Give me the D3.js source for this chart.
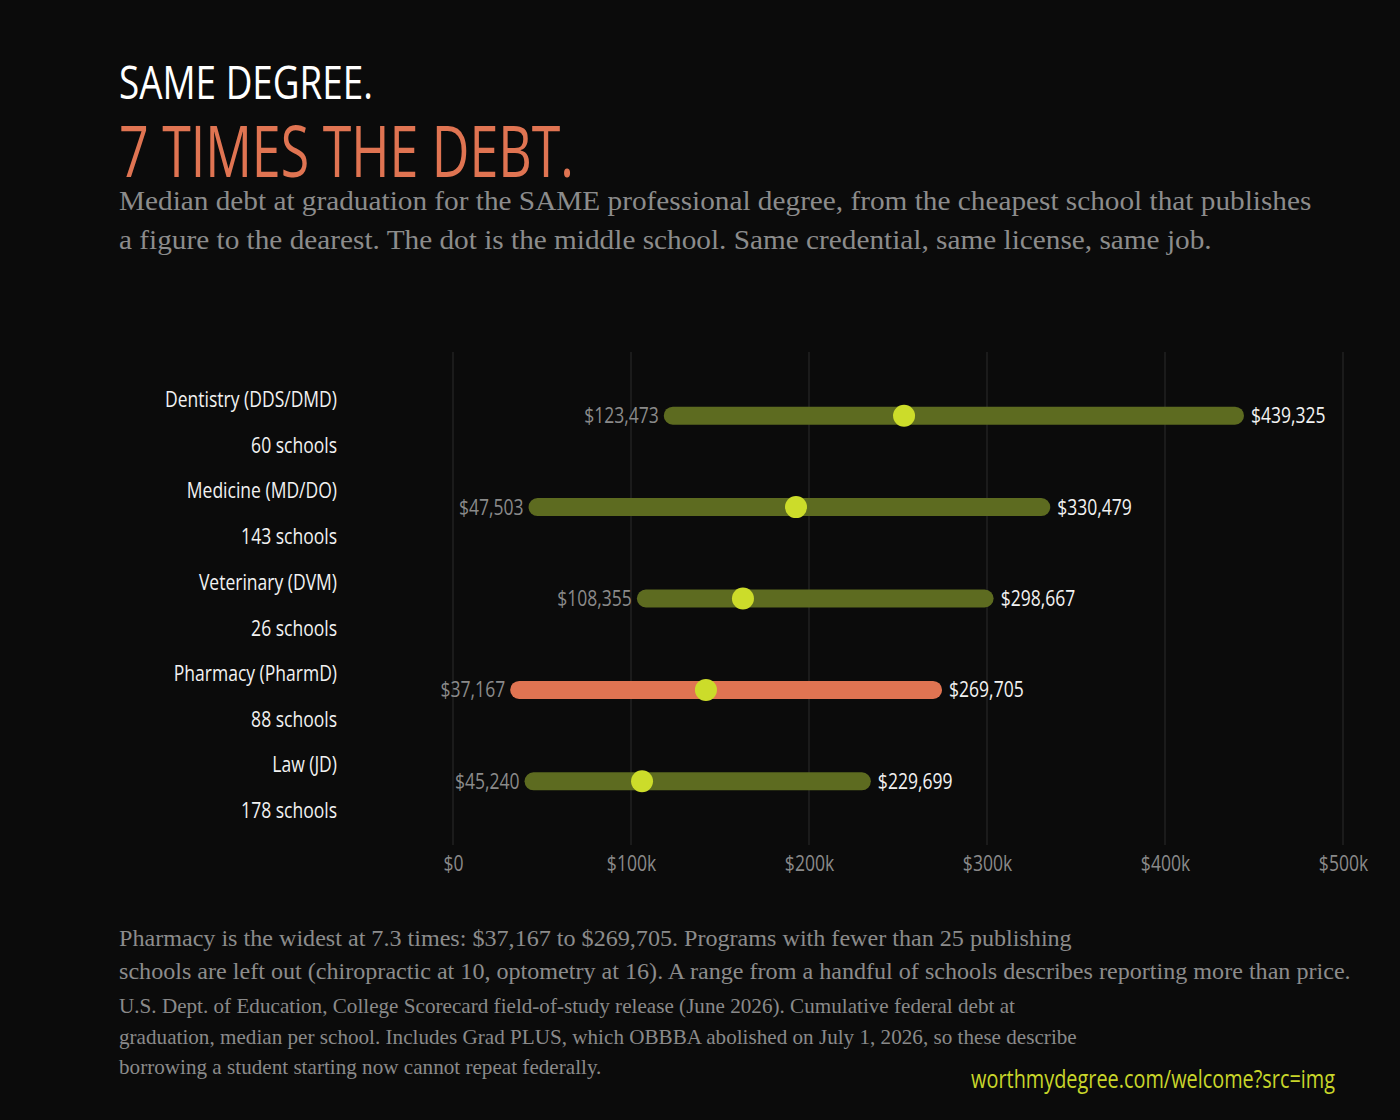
<!DOCTYPE html>
<html>
<head>
<meta charset="utf-8">
<script src="https://cdn.jsdelivr.net/npm/d3@7"></script>
<style>
  html, body { margin: 0; padding: 0; background: #0b0b0b; }
  .cond { font-family: "Open Sans", "DejaVu Sans Condensed", sans-serif; }
  .serif { font-family: "Liberation Serif", "DejaVu Serif", serif; }
</style>
</head>
<body>
<div class="canvas"></div>
<script>
// data
const degrees = ['Dentistry (DDS/DMD)', 'Medicine (MD/DO)', 'Veterinary (DVM)', 'Pharmacy (PharmD)', 'Law (JD)'];
const schoolCounts = [60, 143, 26, 88, 178];
const lowDebt = [123473, 47503, 108355, 37167, 45240];
const highDebt = [439325, 330479, 298667, 269705, 229699];
const middleDebt = [253400, 192700, 162900, 142100, 106200];
const highlighted = ['Pharmacy (PharmD)'];
const xTicks = [0, 100000, 200000, 300000, 400000, 500000];

const rows = degrees.map((d, i) => ({
    name: d, schools: schoolCounts[i], low: lowDebt[i], high: highDebt[i], mid: middleDebt[i]
}));

// squeeze text horizontally so a reference string gets the wanted width
const fitScale = (node, width) => width / node.getComputedTextLength();
const squeeze = (sel, k) => sel.each(function () {
    const t = d3.select(this);
    const x0 = +t.attr('x') || 0, y0 = +t.attr('y') || 0;
    t.attr('x', 0).attr('y', 0)
        .attr('transform', `translate(${x0},${y0}) scale(${k},1)`);
});

/* ----------- CONTAINER ----------- */
const W = 1400, H = 1120;
const svg = d3.select('.canvas')
    .append('svg')
    .attr('width', W)
    .attr('height', H);

svg.append('rect').attr('width', W).attr('height', H).attr('fill', '#0b0b0b');

// headings
const t1 = svg.append('text').attr('class', 'cond')
    .attr('x', 119).attr('y', 99)
    .attr('font-size', 46).attr('fill', '#ffffff')
    .text('SAME DEGREE.');
squeeze(t1, fitScale(t1.node(), 254));

const t2 = svg.append('text').attr('class', 'cond')
    .attr('x', 119).attr('y', 177)
    .attr('font-size', 72).attr('fill', '#e07452')
    .text('7 TIMES THE DEBT.');
squeeze(t2, fitScale(t2.node(), 455));

const subLines = [
    'Median debt at graduation for the SAME professional degree, from the cheapest school that publishes',
    'a figure to the dearest. The dot is the middle school. Same credential, same license, same job.'
];
const sub = svg.append('g').selectAll('text')
    .data(subLines).enter()
    .append('text').attr('class', 'serif')
    .attr('x', 119).attr('y', (d, i) => 210 + i * 39)
    .attr('font-size', 27.5).attr('fill', '#8c8c8c')
    .text(d => d);
squeeze(sub, fitScale(sub.node(), 1193));

/* ----------- SCALES & AXES ------------- */
const x = d3.scaleLinear().domain([0, 500000]).range([453, 1343]);
const y = d3.scaleBand().domain(degrees).range([370, 827]);

const graph = svg.append('g');

// gridlines
graph.append('g').selectAll('line')
    .data(xTicks).enter()
    .append('line')
    .attr('x1', d => x(d)).attr('x2', d => x(d))
    .attr('y1', 352).attr('y2', 845)
    .attr('stroke', '#2c2c2c').attr('stroke-width', 1);

const xAxis = d3.axisBottom(x)
    .tickValues(xTicks)
    .tickSize(0)
    .tickFormat(d => d === 0 ? '$0' : '$' + d / 1000 + 'k');

const xAxisGroup = graph.append('g')
    .attr('transform', 'translate(0,848)')
    .call(xAxis);
xAxisGroup.select('.domain').remove();
xAxisGroup.selectAll('text')
    .attr('class', 'cond')
    .attr('font-size', 21)
    .attr('fill', '#8a8a8a')
    .attr('dy', '0.95em');

/* ----------- ROWS ----------- */
const cy = d => y(d.name) + y.bandwidth() / 2;
const money = d3.format('$,');

const row = graph.selectAll('g.row')
    .data(rows).enter()
    .append('g').attr('class', 'row');

const names = row.append('text').attr('class', 'cond label')
    .attr('x', 337).attr('y', d => cy(d) - 9)
    .attr('text-anchor', 'end')
    .attr('font-size', 21).attr('fill', '#f2f2f2')
    .text(d => d.name);
row.append('text').attr('class', 'cond label')
    .attr('x', 337).attr('y', d => cy(d) + 37)
    .attr('text-anchor', 'end')
    .attr('font-size', 21).attr('fill', '#f2f2f2')
    .text(d => d.schools + ' schools');

row.append('line')
    .attr('x1', d => x(d.low)).attr('x2', d => x(d.high))
    .attr('y1', cy).attr('y2', cy)
    .attr('stroke', d => highlighted.includes(d.name) ? '#e07452' : '#5d6b20')
    .attr('stroke-width', 18)
    .attr('stroke-linecap', 'round');

row.append('circle')
    .attr('cx', d => x(d.mid)).attr('cy', cy)
    .attr('r', 11)
    .attr('fill', '#ccdc2a');

row.append('text').attr('class', 'cond label')
    .attr('x', d => x(d.low) - 14).attr('y', cy)
    .attr('dy', '0.36em')
    .attr('text-anchor', 'end')
    .attr('font-size', 21).attr('fill', '#8a8a8a')
    .text(d => money(d.low));
row.append('text').attr('class', 'cond label')
    .attr('x', d => x(d.high) + 16).attr('y', cy)
    .attr('dy', '0.36em')
    .attr('font-size', 21).attr('fill', '#f2f2f2')
    .text(d => money(d.high));

// one squeeze factor for all 21px condensed text
const kLabel = fitScale(names.node(), 172);
squeeze(svg.selectAll('text.label'), kLabel);
squeeze(xAxisGroup.selectAll('text'), kLabel);

/* ----------- FOOTER ----------- */
const noteLines = [
    'Pharmacy is the widest at 7.3 times: $37,167 to $269,705. Programs with fewer than 25 publishing',
    'schools are left out (chiropractic at 10, optometry at 16). A range from a handful of schools describes reporting more than price.'
];
const notes = svg.append('g').selectAll('text')
    .data(noteLines).enter()
    .append('text').attr('class', 'serif')
    .attr('x', 119).attr('y', (d, i) => 946 + i * 33)
    .attr('font-size', 22.5).attr('fill', '#8c8c8c')
    .text(d => d);
squeeze(notes, fitScale(notes.node(), 953));

const sourceLines = [
    'U.S. Dept. of Education, College Scorecard field-of-study release (June 2026). Cumulative federal debt at',
    'graduation, median per school. Includes Grad PLUS, which OBBBA abolished on July 1, 2026, so these describe',
    'borrowing a student starting now cannot repeat federally.'
];
const sources = svg.append('g').selectAll('text')
    .data(sourceLines).enter()
    .append('text').attr('class', 'serif')
    .attr('x', 119).attr('y', (d, i) => 1013 + i * 30.5)
    .attr('font-size', 20).attr('fill', '#8a8a8a')
    .text(d => d);
squeeze(sources, fitScale(sources.node(), 896));

const url = svg.append('text').attr('class', 'cond')
    .attr('x', 1335).attr('y', 1088)
    .attr('text-anchor', 'end')
    .attr('font-size', 25).attr('fill', '#c8d62a')
    .text('worthmydegree.com/welcome?src=img');
squeeze(url, fitScale(url.node(), 364));
</script>
</body>
</html>
